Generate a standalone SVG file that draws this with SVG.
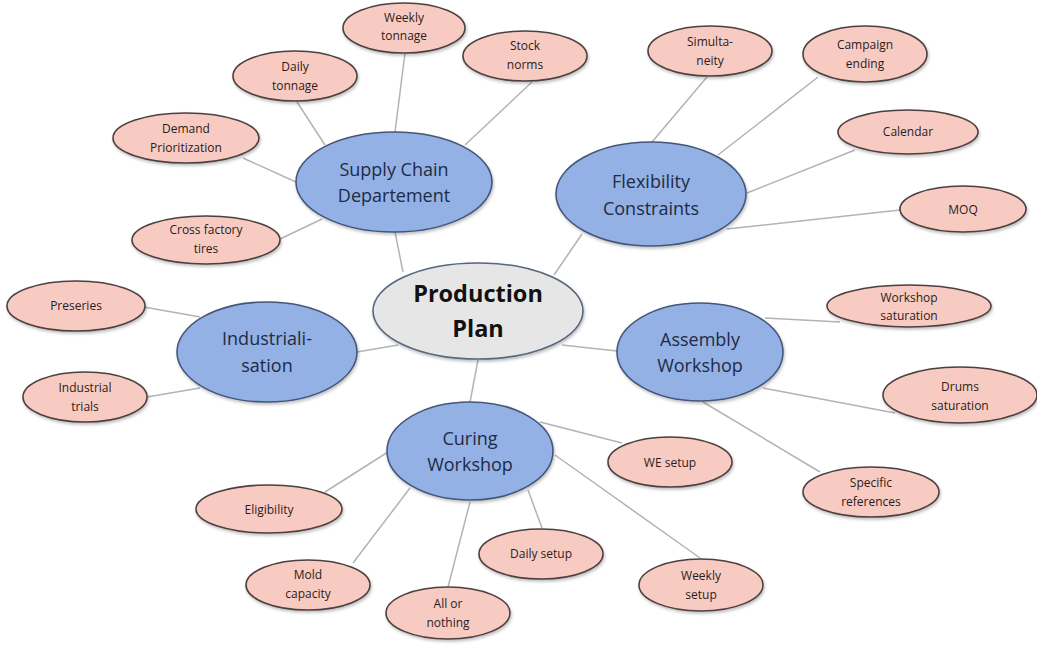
<svg xmlns="http://www.w3.org/2000/svg" width="1037" height="645" viewBox="0 0 1037 645">
<defs>
<style>
.bg{fill:#ffffff}
.c line{stroke:#b3b3b3;stroke-width:1.5}
.leaf ellipse{fill:#f8cbc2;stroke:#4d3f3f;stroke-width:1.6}
.main ellipse{fill:#93b1e4;stroke:#44577a;stroke-width:1.6}
.root ellipse{fill:#e6e6e6;stroke:#56677f;stroke-width:1.6}
.leaf text{font-family:"Open Sans","Liberation Sans",sans-serif;font-size:12px;fill:#2a1c1c;text-anchor:middle}
.main text{font-family:"Open Sans","Liberation Sans",sans-serif;font-size:18px;fill:#1e2b45;text-anchor:middle}
.root text{font-family:"Open Sans","Liberation Sans",sans-serif;font-size:23.5px;font-weight:bold;fill:#111111;text-anchor:middle}
</style>
<filter id="sh" x="-20%" y="-20%" width="140%" height="150%">
<feDropShadow dx="1" dy="2" stdDeviation="1.5" flood-color="#000" flood-opacity="0.25"/>
</filter>
</defs>
<rect class="bg" x="0" y="0" width="1037" height="645"/>
<g id="connectors" class="c">
<line x1="405" y1="53" x2="395" y2="132"/>
<line x1="297" y1="102" x2="325" y2="145"/>
<line x1="243" y1="158" x2="296" y2="182"/>
<line x1="280" y1="239" x2="322" y2="219"/>
<line x1="532" y1="82" x2="465" y2="145"/>
<line x1="395" y1="232" x2="403" y2="272"/>
<line x1="707" y1="77" x2="652" y2="142"/>
<line x1="818" y1="77" x2="718" y2="155"/>
<line x1="855" y1="150" x2="747" y2="193"/>
<line x1="900" y1="210" x2="727" y2="229"/>
<line x1="582" y1="234" x2="554" y2="275"/>
<line x1="357" y1="352" x2="398" y2="345"/>
<line x1="144" y1="307" x2="200" y2="317"/>
<line x1="147" y1="397" x2="200" y2="388"/>
<line x1="478" y1="360" x2="470" y2="402"/>
<line x1="325" y1="492" x2="388" y2="452"/>
<line x1="353" y1="563" x2="410" y2="488"/>
<line x1="448" y1="587" x2="470" y2="502"/>
<line x1="542" y1="528" x2="528" y2="490"/>
<line x1="700" y1="558" x2="555" y2="455"/>
<line x1="622" y1="443" x2="540" y2="422"/>
<line x1="562" y1="345" x2="617" y2="351"/>
<line x1="765" y1="318" x2="840" y2="322"/>
<line x1="763" y1="388" x2="895" y2="413"/>
<line x1="703" y1="402" x2="820" y2="472"/>
</g>
<g id="weekly-tonnage" class="leaf"><ellipse cx="404" cy="28" rx="61" ry="25" filter="url(#sh)"/><text x="404" y="22">Weekly</text><text x="404" y="40">tonnage</text></g>
<g id="daily-tonnage" class="leaf"><ellipse cx="295" cy="76" rx="62" ry="25" filter="url(#sh)"/><text x="295" y="71">Daily</text><text x="295" y="90">tonnage</text></g>
<g id="stock-norms" class="leaf"><ellipse cx="525" cy="56" rx="62" ry="25" filter="url(#sh)"/><text x="525" y="50">Stock</text><text x="525" y="69">norms</text></g>
<g id="demand-prioritization" class="leaf"><ellipse cx="186" cy="138" rx="73" ry="25" filter="url(#sh)"/><text x="186" y="133">Demand</text><text x="186" y="152">Prioritization</text></g>
<g id="cross-factory" class="leaf"><ellipse cx="206" cy="240" rx="74" ry="24" filter="url(#sh)"/><text x="206" y="234">Cross factory</text><text x="206" y="253">tires</text></g>
<g id="simultaneity" class="leaf"><ellipse cx="710" cy="51" rx="62" ry="25" filter="url(#sh)"/><text x="710" y="46">Simulta-</text><text x="710" y="65">neity</text></g>
<g id="campaign-ending" class="leaf"><ellipse cx="865" cy="54" rx="62" ry="28" filter="url(#sh)"/><text x="865" y="49">Campaign</text><text x="865" y="68">ending</text></g>
<g id="calendar" class="leaf"><ellipse cx="908" cy="132" rx="70" ry="22" filter="url(#sh)"/><text x="908" y="136">Calendar</text></g>
<g id="moq" class="leaf"><ellipse cx="963" cy="209" rx="63" ry="23" filter="url(#sh)"/><text x="963" y="214">MOQ</text></g>
<g id="supply-chain" class="main"><ellipse cx="394" cy="182" rx="98" ry="50" filter="url(#sh)"/><text x="394" y="176">Supply Chain</text><text x="394" y="202">Departement</text></g>
<g id="flexibility" class="main"><ellipse cx="651" cy="194" rx="95" ry="52" filter="url(#sh)"/><text x="651" y="188">Flexibility</text><text x="651" y="215">Constraints</text></g>
<g id="preseries" class="leaf"><ellipse cx="76" cy="306" rx="69" ry="25" filter="url(#sh)"/><text x="76" y="310">Preseries</text></g>
<g id="industrial-trials" class="leaf"><ellipse cx="85" cy="397" rx="62" ry="25" filter="url(#sh)"/><text x="85" y="392">Industrial</text><text x="85" y="411">trials</text></g>
<g id="industrialisation" class="main"><ellipse cx="267" cy="352" rx="90" ry="50" filter="url(#sh)"/><text x="267" y="345">Industriali-</text><text x="267" y="372">sation</text></g>
<g id="production-plan" class="root"><ellipse cx="478" cy="311" rx="105" ry="48" filter="url(#sh)"/><text x="478" y="302">Production</text><text x="478" y="337">Plan</text></g>
<g id="workshop-saturation" class="leaf"><ellipse cx="909" cy="306" rx="82" ry="21" filter="url(#sh)"/><text x="909" y="302">Workshop</text><text x="909" y="320">saturation</text></g>
<g id="drums-saturation" class="leaf"><ellipse cx="960" cy="395" rx="77" ry="28" filter="url(#sh)"/><text x="960" y="391">Drums</text><text x="960" y="410">saturation</text></g>
<g id="specific-references" class="leaf"><ellipse cx="871" cy="492" rx="68" ry="25" filter="url(#sh)"/><text x="871" y="487">Specific</text><text x="871" y="506">references</text></g>
<g id="assembly" class="main"><ellipse cx="700" cy="352" rx="83" ry="49" filter="url(#sh)"/><text x="700" y="346">Assembly</text><text x="700" y="372">Workshop</text></g>
<g id="we-setup" class="leaf"><ellipse cx="670" cy="462" rx="62" ry="25" filter="url(#sh)"/><text x="670" y="467">WE setup</text></g>
<g id="eligibility" class="leaf"><ellipse cx="269" cy="509" rx="73" ry="24" filter="url(#sh)"/><text x="269" y="514">Eligibility</text></g>
<g id="mold-capacity" class="leaf"><ellipse cx="308" cy="585" rx="62" ry="25" filter="url(#sh)"/><text x="308" y="579">Mold</text><text x="308" y="598">capacity</text></g>
<g id="all-or-nothing" class="leaf"><ellipse cx="448" cy="613" rx="62" ry="26" filter="url(#sh)"/><text x="448" y="608">All or</text><text x="448" y="627">nothing</text></g>
<g id="daily-setup" class="leaf"><ellipse cx="541" cy="554" rx="62" ry="25" filter="url(#sh)"/><text x="541" y="558">Daily setup</text></g>
<g id="weekly-setup" class="leaf"><ellipse cx="701" cy="585" rx="62" ry="26" filter="url(#sh)"/><text x="701" y="580">Weekly</text><text x="701" y="599">setup</text></g>
<g id="curing" class="main"><ellipse cx="470" cy="451" rx="83" ry="49" filter="url(#sh)"/><text x="470" y="445">Curing</text><text x="470" y="471">Workshop</text></g>
</svg>
